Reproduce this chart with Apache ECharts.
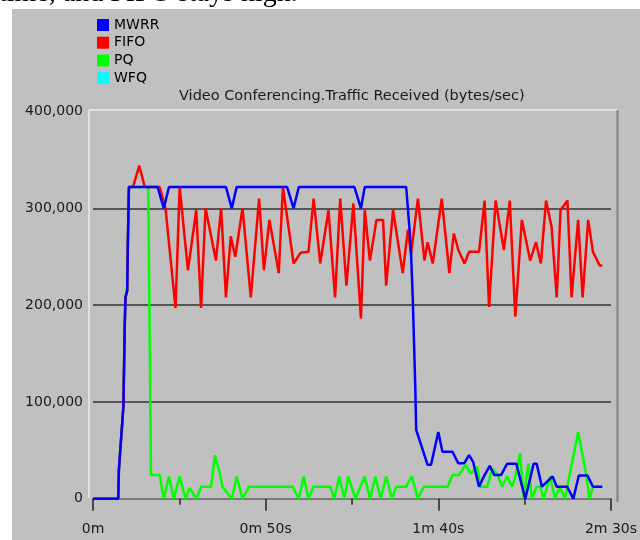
<!DOCTYPE html>
<html>
<head>
<meta charset="utf-8">
<script src="https://cdn.jsdelivr.net/npm/echarts@6/dist/echarts.min.js"></script>
<style>
  html, body { margin: 0; padding: 0; background: #ffffff; }
  #chart { width: 640px; height: 540px; }
</style>
</head>
<body>
<div id="chart"></div>
<script>
// Series names, in legend order
const seriesNames = ['MWRR', 'FIFO', 'PQ', 'WFQ'];
const seriesColors = ['#0000ff', '#ff0000', '#00ff00', '#00ffff'];

// Time axis labels (every 50 s)
const timeTicks = ['0m', '0m 50s', '1m 40s', '2m 30s'];

// Traffic received, [seconds, bytes/sec]
const mwrrData = [[0,0],[7.3,0],[7.5,30000],[8.0,30000],[8.1,60000],[8.6,62000],[8.8,95000],[9.2,180000],[9.4,208000],[9.9,215000],[10.1,265000],[10.4,322000],[18.7,322000],[20.5,300000],[22.0,322000],[38.5,322000],[40.2,300000],[41.6,322000],[56.2,322000],[58.1,300000],[59.6,322000],[75.7,322000],[77.6,300000],[78.7,322000],[90.7,322000],[91.7,277000],[92.1,254000],[92.6,208000],[93.3,120000],[93.6,71000],[96.9,35000],[97.9,35000],[100.0,69000],[101.2,48500],[104.1,48500],[105.8,36500],[107.5,36500],[108.9,45000],[110.1,38000],[111.8,12400],[113.2,23000],[114.9,34000],[116.2,24500],[118.2,24500],[119.9,36000],[122.6,36000],[125.2,0],[127.6,36000],[128.5,36000],[130.0,12400],[133.1,23000],[134.3,12400],[137.3,12400],[139.1,0],[140.7,24000],[143.2,24000],[144.8,12400],[147.5,12400]];

const fifoData = [[0,0],[7.3,0],[7.5,30000],[8.0,30000],[8.1,60000],[8.6,62000],[8.8,95000],[9.2,180000],[9.4,208000],[9.9,215000],[10.1,265000],[10.4,322000],[11.6,322000],[13.4,344000],[15.0,322000],[19.3,322000],[21.0,300000],[23.9,197000],[25.1,322000],[27.5,236000],[29.9,298000],[31.3,197000],[32.6,300000],[35.6,246000],[37.1,300000],[38.5,208000],[39.9,271000],[41.2,250000],[43.3,300000],[45.7,208000],[48.1,310000],[49.5,236000],[51.1,288000],[53.8,233000],[55.0,322000],[58.1,243000],[60.1,254000],[62.4,255000],[63.9,310000],[65.8,243000],[68.2,298000],[70.1,208000],[71.6,310000],[73.4,220000],[75.4,305000],[77.6,186000],[78.7,298000],[80.2,246000],[82.1,288000],[84.0,288000],[84.9,220000],[86.9,298000],[89.7,233000],[91.2,278000],[92.1,253000],[94.1,310000],[96.0,246000],[96.9,265000],[98.4,243000],[101.0,310000],[103.2,233000],[104.5,274000],[105.8,257000],[107.6,243000],[108.9,255000],[111.8,255000],[113.4,308000],[114.7,198000],[116.6,308000],[119.0,257000],[120.7,308000],[122.3,188000],[124.2,288000],[126.6,246000],[128.3,265000],[129.7,243000],[131.2,308000],[132.8,281000],[134.3,208000],[135.4,298000],[137.4,308000],[138.6,208000],[140.5,288000],[141.8,208000],[143.4,288000],[144.8,255000],[146.7,241000],[147.5,241000]];

const pqData = [[0,0],[7.3,0],[7.5,30000],[8.0,30000],[8.1,60000],[8.6,62000],[8.8,95000],[9.2,180000],[9.4,208000],[9.9,215000],[10.1,265000],[10.4,322000],[16.0,322000],[16.2,248000],[16.8,24500],[19.3,24500],[20.5,0],[22.0,23000],[23.4,0],[25.1,23000],[26.8,0],[28.0,11000],[29.9,0],[31.3,12400],[34.2,12400],[35.3,45000],[36.6,28000],[37.5,12400],[40.2,0],[41.6,23000],[43.3,0],[45.2,12400],[57.8,12400],[59.6,0],[61.0,23000],[62.4,0],[63.9,12400],[68.7,12400],[69.9,0],[71.3,23000],[72.8,0],[73.9,23000],[76.0,0],[78.7,23000],[80.2,0],[81.8,23000],[83.3,0],[84.9,23000],[86.6,0],[87.8,12400],[90.7,12400],[92.3,23000],[94.1,0],[95.8,12400],[102.7,12400],[104.1,24500],[106.0,24500],[107.9,35000],[109.4,26000],[111.3,33000],[112.2,12400],[114.2,12400],[115.6,31000],[117.0,26000],[118.5,12400],[119.9,23000],[121.4,12400],[122.3,23000],[123.7,47000],[124.7,0],[126.1,36500],[127.1,0],[128.5,12400],[129.5,12400],[130.5,0],[132.4,23000],[133.8,0],[135.2,12400],[136.7,0],[138.1,26000],[140.5,69000],[142.8,26000],[143.8,0],[144.8,12400]];

// WFQ has no samples on this plot
const wfqData = [];

const FONT = 'DejaVu Sans';

const chart = echarts.init(document.getElementById('chart'), null, { renderer: 'canvas' });

function lineSeries(name, data, color, z) {
  return {
    name: name,
    type: 'line',
    data: data,
    showSymbol: false,
    symbol: 'none',
    z: z,
    lineStyle: { color: color, width: 2.5 },
    itemStyle: { color: color },
    animation: false
  };
}

chart.setOption({
  animation: false,
  backgroundColor: '#ffffff',
  title: {
    text: 'Video Conferencing.Traffic Received (bytes/sec)',
    left: 179,
    top: 89,
    padding: 0,
    textStyle: { fontFamily: FONT, fontSize: 14.5, fontWeight: 'normal', color: '#1a1a1a' }
  },
  legend: {
    data: seriesNames,
    orient: 'vertical',
    left: 97,
    top: 18,
    padding: 0,
    icon: 'rect',
    itemWidth: 12,
    itemHeight: 12,
    itemGap: 3.7,
    selectedMode: false,
    textStyle: { fontFamily: FONT, fontSize: 14, color: '#000000', padding: [0, 0, 0, 0] }
  },
  grid: { left: 93, right: 25, top: 111.5, bottom: 41.3, containLabel: false },
  xAxis: {
    type: 'value',
    min: 0,
    max: 150,
    interval: 50,
    offset: 2,
    axisLine: { show: true, lineStyle: { color: '#7a7a7a', width: 2 } },
    axisTick: { show: true, length: 12, lineStyle: { color: '#222222', width: 1.5 } },
    minorTick: { show: true, splitNumber: 2, length: 6, lineStyle: { color: '#222222', width: 1.5 } },
    splitLine: { show: false },
    axisLabel: {
      margin: 22,
      fontFamily: FONT,
      fontSize: 14,
      color: '#1a1a1a',
      formatter: function (v) { return timeTicks[Math.round(v / 50)]; }
    }
  },
  yAxis: {
    type: 'value',
    min: 0,
    max: 400000,
    interval: 100000,
    axisLine: { show: false },
    axisTick: { show: false },
    splitLine: {
      show: true,
      showMinLine: false,
      showMaxLine: false,
      lineStyle: { color: '#555555', width: 2 }
    },
    axisLabel: {
      margin: 10,
      fontFamily: FONT,
      fontSize: 14,
      color: '#1a1a1a',
      formatter: function (v) { return v.toLocaleString('en-US'); }
    }
  },
  graphic: [
    { type: 'rect', z: -100, silent: true, shape: { x: 12, y: 9, width: 628, height: 531 }, style: { fill: '#c0c0c0' } },
    { type: 'text', z: -50, silent: true, x: -1, y: -6, style: { text: 'time, and FIFO stays high.', font: '28px "Liberation Serif"', fill: '#000000', verticalAlign: 'middle' } },
    { type: 'line', z: -1, silent: true, shape: { x1: 89, y1: 110, x2: 618, y2: 110 }, style: { stroke: '#ececec', lineWidth: 1.5 } },
    { type: 'line', z: -1, silent: true, shape: { x1: 89, y1: 110, x2: 89, y2: 498 }, style: { stroke: '#ececec', lineWidth: 1.5 } },
    { type: 'line', z: -1, silent: true, shape: { x1: 617.5, y1: 110, x2: 617.5, y2: 502 }, style: { stroke: '#808080', lineWidth: 2 } }
  ],
  series: [
    lineSeries('WFQ', wfqData, seriesColors[3], 2),
    lineSeries('PQ', pqData, seriesColors[2], 3),
    lineSeries('FIFO', fifoData, seriesColors[1], 4),
    lineSeries('MWRR', mwrrData, seriesColors[0], 5)
  ]
});
</script>
</body>
</html>
